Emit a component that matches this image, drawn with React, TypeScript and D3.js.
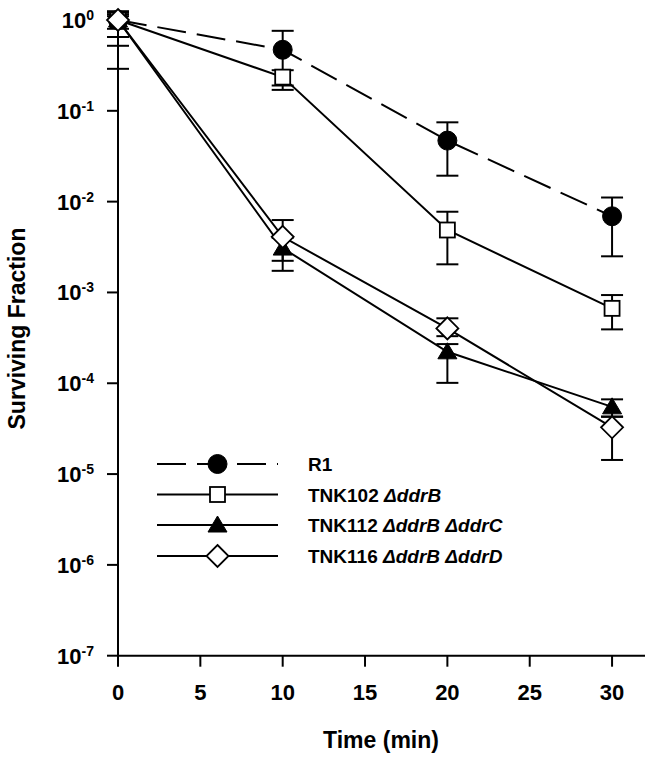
import React from "react";
import * as d3 from "d3";

const times = [0, 10, 20, 30];

const seriesNames = ["R1", "TNK102", "TNK112", "TNK116"];
const legendMain = ["R1", "TNK102 ", "TNK112 ", "TNK116 "];
const legendItalic = [[], ["ΔddrB"], ["ΔddrB", "ΔddrC"], ["ΔddrB", "ΔddrD"]];

const r1Values = [1, 0.47, 0.047, 0.0069];
const r1Low = [0.29, 0.17, 0.0193, 0.0025];
const r1High = [1.25, 0.76, 0.0747, 0.0111];

const tnk102Values = [1, 0.235, 0.00487, 0.000668];
const tnk102Low = [0.52, 0.19, 0.00204, 0.000392];
const tnk102High = [1.2, 0.28, 0.00774, 0.000936];

const tnk112Values = [1, 0.00308, 0.000222, 0.000055];
const tnk112Low = [0.65, 0.00173, 0.000101, 0.0000427];
const tnk112High = [1.1, 0.004, 0.00027, 0.0000665];

const tnk116Values = [1, 0.0041, 0.000402, 0.0000327];
const tnk116Low = [0.8, 0.00223, 0.00033, 0.0000143];
const tnk116High = [1.15, 0.00627, 0.000519, 0.000043];

const xTicks = [0, 5, 10, 15, 20, 25, 30];
const yTickExps = [0, -1, -2, -3, -4, -5, -6, -7];

const FONT = "'Liberation Sans', Arial, Helvetica, sans-serif";

const W = 653;
const H = 765;

const x = d3.scaleLinear().domain([0, 32]).range([118, 645]);
const y = d3.scaleLog().domain([1e-7, 1]).range([655.7, 20]);

type Shape = "circle" | "square" | "triangle" | "diamond";

const series = [
  { name: seriesNames[0], v: r1Values, lo: r1Low, hi: r1High, shape: "circle" as Shape, dashed: true },
  { name: seriesNames[1], v: tnk102Values, lo: tnk102Low, hi: tnk102High, shape: "square" as Shape, dashed: false },
  { name: seriesNames[2], v: tnk112Values, lo: tnk112Low, hi: tnk112High, shape: "triangle" as Shape, dashed: false },
  { name: seriesNames[3], v: tnk116Values, lo: tnk116Low, hi: tnk116High, shape: "diamond" as Shape, dashed: false },
];

function Marker({ shape, cx, cy }: { shape: Shape; cx: number; cy: number }) {
  const sw = 1.8;
  if (shape === "circle") return <circle cx={cx} cy={cy} r={9.5} fill="#000" stroke="#000" strokeWidth={1} />;
  if (shape === "square")
    return <rect x={cx - 7.5} y={cy - 7.5} width={15} height={15} fill="#fff" stroke="#000" strokeWidth={sw} />;
  if (shape === "triangle")
    return (
      <path
        d={`M${cx},${cy - 9} L${cx + 9.5},${cy + 7} L${cx - 9.5},${cy + 7} Z`}
        fill="#000"
        stroke="#000"
        strokeWidth={1}
      />
    );
  return (
    <path
      d={`M${cx},${cy - 11} L${cx + 11},${cy} L${cx},${cy + 11} L${cx - 11},${cy} Z`}
      fill="#fff"
      stroke="#000"
      strokeWidth={sw}
    />
  );
}

export default function App() {
  const line = d3
    .line<number>()
    .x((_, i) => x(times[i]))
    .y((d) => y(d));

  const legendY = [464, 494.5, 525, 556];

  return (
    <svg
      width={W}
      height={H}
      style={{ position: "absolute", left: 0, top: 0, background: "#fff" }}
      fontFamily={FONT}
    >
      <rect width={W} height={H} fill="#fff" />
      {/* axes */}
      <line x1={x(0)} x2={x(0)} y1={y(1)} y2={y(1e-7)} stroke="#000" strokeWidth={2} />
      <line x1={x(0) - 1} x2={x(32)} y1={y(1e-7)} y2={y(1e-7)} stroke="#000" strokeWidth={2} />
      {yTickExps.map((e) => {
        const ty = y(Math.pow(10, e));
        return (
          <g key={e}>
            <line x1={x(0) - 11} x2={x(0)} y1={ty} y2={ty} stroke="#000" strokeWidth={2} />
            <text x={94} y={ty + 8} textAnchor="end" fontSize={22} fontWeight="bold">
              <tspan>10</tspan>
              <tspan dy={-8} fontSize={14}>
                {e === 0 ? "0" : `-${-e}`}
              </tspan>
            </text>
          </g>
        );
      })}
      {xTicks.map((t) => (
        <g key={t}>
          <line x1={x(t)} x2={x(t)} y1={y(1e-7)} y2={y(1e-7) + 11} stroke="#000" strokeWidth={2} />
          <text x={x(t)} y={700} textAnchor="middle" fontSize={22} fontWeight="bold">
            {t}
          </text>
        </g>
      ))}
      <text x={381} y={748} textAnchor="middle" fontSize={23} fontWeight="bold">
        Time (min)
      </text>
      <text
        transform="translate(25,328.5) rotate(-90)"
        textAnchor="middle"
        fontSize={23}
        fontWeight="bold"
      >
        Surviving Fraction
      </text>

      {/* error bars */}
      {series.map((s) =>
        times.map((t, i) => (
          <g key={s.name + t} stroke="#000" strokeWidth={2}>
            <line x1={x(t)} x2={x(t)} y1={y(s.lo[i])} y2={y(s.hi[i])} />
            <line x1={x(t) - 11} x2={x(t) + 11} y1={y(s.lo[i])} y2={y(s.lo[i])} />
            <line x1={x(t) - 11} x2={x(t) + 11} y1={y(s.hi[i])} y2={y(s.hi[i])} />
          </g>
        ))
      )}
      {/* lines */}
      {series.map((s) => (
        <path
          key={s.name}
          d={line(s.v) || ""}
          fill="none"
          stroke="#000"
          strokeWidth={2}
          strokeDasharray={s.dashed ? "29,11" : undefined}
        />
      ))}
      {/* markers */}
      {series.map((s) =>
        times.map((t, i) => <Marker key={s.name + t} shape={s.shape} cx={x(t)} cy={y(s.v[i])} />)
      )}

      {/* legend */}
      {series.map((s, i) => (
        <g key={s.name}>
          <line
            x1={157}
            x2={278}
            y1={legendY[i]}
            y2={legendY[i]}
            stroke="#000"
            strokeWidth={2}
            strokeDasharray={s.dashed ? "29,11" : undefined}
          />
          <Marker shape={s.shape} cx={217.5} cy={legendY[i]} />
          <text x={308} y={legendY[i] + 7} fontSize={19} fontWeight="bold">
            <tspan>{legendMain[i]}</tspan>
            {legendItalic[i].map((it, k) => (
              <tspan key={k} fontStyle="italic">
                {(k > 0 ? " " : "") + it}
              </tspan>
            ))}
          </text>
        </g>
      ))}
    </svg>
  );
}
